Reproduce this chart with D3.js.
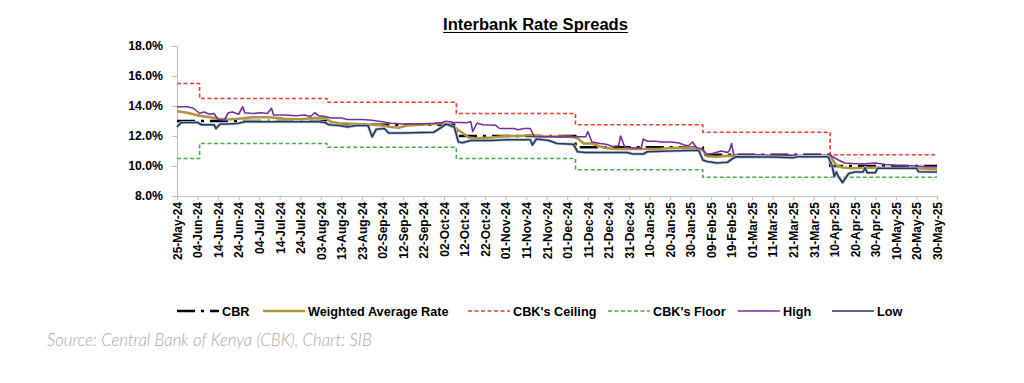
<!DOCTYPE html>
<html><head><meta charset="utf-8">
<script src="https://cdn.jsdelivr.net/npm/d3@7"></script>
<style>body{margin:0;background:#fff} svg{display:block}</style>
</head><body>
<svg id="c" width="1024" height="383"></svg>
<script>
// ---------- DATA ----------
const chartTitle = "Interbank Rate Spreads";
const sourceText = "Source: Central Bank of Kenya (CBK), Chart: SIB";
const tickLabels = ["25-May-24","04-Jun-24","14-Jun-24","24-Jun-24","04-Jul-24","14-Jul-24","24-Jul-24","03-Aug-24","13-Aug-24","23-Aug-24","02-Sep-24","12-Sep-24","22-Sep-24","02-Oct-24","12-Oct-24","22-Oct-24","01-Nov-24","11-Nov-24","21-Nov-24","01-Dec-24","11-Dec-24","21-Dec-24","31-Dec-24","10-Jan-25","20-Jan-25","30-Jan-25","09-Feb-25","19-Feb-25","01-Mar-25","11-Mar-25","21-Mar-25","31-Mar-25","10-Apr-25","20-Apr-25","30-Apr-25","10-May-25","20-May-25","30-May-25"];
const yTicks = [8,10,12,14,16,18];

const stepDates = ["2024-05-25","2024-06-05","2024-08-06","2024-10-08","2024-12-05","2025-02-05","2025-04-08","2025-05-30"];
const cbrValues     = [13.0, 13.0, 12.75, 12.0, 11.25, 10.75, 10.0, 10.0];
const ceilingValues = [15.5, 14.5, 14.25, 13.5, 12.75, 12.25, 10.75, 10.75];
const floorValues   = [10.5, 11.5, 11.25, 10.5, 9.75, 9.25, 9.25, 9.25];

const high = [["2024-05-25",13.95],["2024-05-30",13.95],["2024-06-02",13.85],["2024-06-05",13.5],["2024-06-07",13.6],["2024-06-10",13.45],["2024-06-12",13.5],["2024-06-14",13.1],["2024-06-17",13.05],["2024-06-19",13.55],["2024-06-21",13.6],["2024-06-24",13.45],["2024-06-26",13.95],["2024-06-27",13.55],["2024-07-01",13.5],["2024-07-05",13.55],["2024-07-08",13.5],["2024-07-10",13.85],["2024-07-11",13.4],["2024-07-16",13.4],["2024-07-22",13.35],["2024-07-26",13.4],["2024-07-29",13.3],["2024-07-31",13.55],["2024-08-02",13.35],["2024-08-05",13.3],["2024-08-08",13.2],["2024-08-13",13.2],["2024-08-16",13.1],["2024-08-23",13.1],["2024-08-28",13.05],["2024-09-02",12.95],["2024-09-06",12.85],["2024-09-12",12.8],["2024-09-20",12.8],["2024-09-27",12.85],["2024-10-01",12.9],["2024-10-03",12.98],["2024-10-07",12.9],["2024-10-10",12.9],["2024-10-13",12.88],["2024-10-15",12.95],["2024-10-16",12.3],["2024-10-18",12.85],["2024-10-21",12.75],["2024-10-27",12.72],["2024-10-29",12.5],["2024-11-05",12.5],["2024-11-07",12.42],["2024-11-10",12.5],["2024-11-13",12.5],["2024-11-15",11.95],["2024-11-25",11.95],["2024-11-29",11.93],["2024-12-05",11.95],["2024-12-10",11.95],["2024-12-11",12.3],["2024-12-13",11.6],["2024-12-17",11.5],["2024-12-20",11.45],["2024-12-23",11.3],["2024-12-26",11.35],["2024-12-27",12.0],["2024-12-29",11.25],["2025-01-02",11.2],["2025-01-06",11.2],["2025-01-07",11.8],["2025-01-09",11.65],["2025-01-13",11.65],["2025-01-16",11.6],["2025-01-20",11.6],["2025-01-24",11.55],["2025-01-27",11.4],["2025-01-29",11.35],["2025-01-31",11.6],["2025-02-02",11.2],["2025-02-05",11.1],["2025-02-07",10.75],["2025-02-10",10.85],["2025-02-14",11.0],["2025-02-17",10.9],["2025-02-18",11.05],["2025-02-19",11.5],["2025-02-20",10.75],["2025-02-24",10.72],["2025-03-04",10.75],["2025-03-10",10.7],["2025-03-17",10.73],["2025-03-24",10.7],["2025-04-01",10.72],["2025-04-08",10.72],["2025-04-10",10.55],["2025-04-12",10.4],["2025-04-15",10.2],["2025-04-20",10.15],["2025-04-25",10.15],["2025-04-30",10.2],["2025-05-05",10.1],["2025-05-10",10.05],["2025-05-20",10.0],["2025-05-25",9.95],["2025-05-30",9.95]];

const weighted = [["2024-05-25",13.65],["2024-05-30",13.55],["2024-06-05",13.35],["2024-06-10",13.25],["2024-06-14",13.15],["2024-06-19",13.1],["2024-06-24",13.15],["2024-07-01",13.25],["2024-07-08",13.25],["2024-07-12",13.22],["2024-07-16",13.15],["2024-07-24",13.12],["2024-07-31",13.2],["2024-08-05",13.2],["2024-08-08",12.95],["2024-08-12",12.85],["2024-08-20",12.8],["2024-08-28",12.75],["2024-09-02",12.7],["2024-09-06",12.6],["2024-09-10",12.55],["2024-09-14",12.7],["2024-09-20",12.75],["2024-09-27",12.8],["2024-10-01",12.85],["2024-10-04",12.75],["2024-10-08",12.5],["2024-10-10",12.3],["2024-10-14",11.9],["2024-10-18",11.85],["2024-10-25",11.9],["2024-11-01",12.0],["2024-11-08",12.0],["2024-11-13",12.07],["2024-11-20",11.97],["2024-11-28",11.97],["2024-12-03",11.95],["2024-12-06",11.85],["2024-12-09",11.5],["2024-12-13",11.5],["2024-12-17",11.3],["2024-12-20",11.2],["2024-12-24",11.13],["2025-01-05",11.13],["2025-01-15",11.15],["2025-01-22",11.2],["2025-01-30",11.25],["2025-02-03",11.18],["2025-02-05",11.05],["2025-02-07",10.65],["2025-02-12",10.62],["2025-02-17",10.68],["2025-02-20",10.67],["2025-03-10",10.68],["2025-03-25",10.66],["2025-04-08",10.67],["2025-04-09",10.45],["2025-04-11",10.05],["2025-04-14",9.9],["2025-04-18",9.85],["2025-04-25",9.88],["2025-05-01",9.9],["2025-05-10",9.85],["2025-05-20",9.85],["2025-05-30",9.78]];

const low = [["2024-05-25",12.6],["2024-05-27",12.9],["2024-06-04",12.9],["2024-06-06",12.75],["2024-06-12",12.75],["2024-06-13",12.5],["2024-06-15",12.8],["2024-06-19",12.8],["2024-06-24",12.85],["2024-06-27",12.95],["2024-07-15",12.95],["2024-08-02",12.95],["2024-08-05",12.9],["2024-08-07",12.75],["2024-08-12",12.7],["2024-08-16",12.6],["2024-08-20",12.7],["2024-08-26",12.7],["2024-08-28",11.95],["2024-08-30",12.45],["2024-09-03",12.5],["2024-09-05",12.2],["2024-09-12",12.2],["2024-09-27",12.25],["2024-10-01",12.6],["2024-10-03",12.8],["2024-10-07",12.6],["2024-10-09",11.6],["2024-10-11",11.55],["2024-10-15",11.7],["2024-10-25",11.7],["2024-11-01",11.75],["2024-11-13",11.75],["2024-11-14",11.4],["2024-11-16",11.8],["2024-11-22",11.7],["2024-11-26",11.5],["2024-12-04",11.45],["2024-12-06",10.95],["2024-12-10",10.9],["2024-12-30",10.9],["2025-01-02",10.8],["2025-01-07",10.8],["2025-01-09",10.95],["2025-01-20",11.0],["2025-02-03",11.05],["2025-02-05",10.4],["2025-02-07",10.3],["2025-02-12",10.2],["2025-02-17",10.25],["2025-02-19",10.45],["2025-02-21",10.62],["2025-03-10",10.6],["2025-03-21",10.55],["2025-03-23",10.62],["2025-04-07",10.62],["2025-04-09",10.0],["2025-04-10",9.3],["2025-04-11",9.6],["2025-04-12",9.3],["2025-04-14",8.9],["2025-04-15",9.1],["2025-04-17",9.5],["2025-04-20",9.6],["2025-04-24",9.6],["2025-04-25",9.9],["2025-04-26",9.55],["2025-04-30",9.55],["2025-05-01",9.85],["2025-05-20",9.85],["2025-05-21",9.62],["2025-05-30",9.6]];

const legendLabels = ["CBR","Weighted Average Rate","CBK's Ceiling","CBK's Floor","High","Low"];

// ---------- LAYOUT / STYLE ----------
const W = 1024, H = 383;
const plot = {left:177, right:937, top:46, bottom:196};
const FONT = "'Liberation Sans', Arial, sans-serif";
const styles = {
  "CBR": {color:"#000000", width:2.6, dash:"18,6,3,6"},
  "Weighted Average Rate": {color:"#b5933a", width:2.6, dash:null},
  "CBK's Ceiling": {color:"#f23a30", width:1.6, dash:"4,2.5"},
  "CBK's Floor": {color:"#45b04a", width:1.6, dash:"4,2.5"},
  "High": {color:"#7030a0", width:1.6, dash:null},
  "Low": {color:"#1f3a5c", width:1.6, dash:null, halo:"#b9c5d4"}
};
const legendX = [177, 263, 468, 608, 738, 832];
const legendLineLen = 42;

const parse = d3.utcParse("%Y-%m-%d");
const parseTick = d3.utcParse("%d-%b-%y");
const tickDates = tickLabels.map(parseTick);

const x = d3.scaleUtc().domain([tickDates[0], tickDates[tickDates.length-1]]).range([plot.left, plot.right]);
const y = d3.scaleLinear().domain([8,18]).range([plot.bottom, plot.top]);

const svg = d3.select("#c");
svg.append("rect").attr("width",W).attr("height",H).attr("fill","#fff");

function fitWidth(sel, target){
  const w = sel.node().getComputedTextLength();
  const fs = parseFloat(sel.attr("font-size"));
  sel.attr("font-size", fs*target/w);
}

// title
const title = svg.append("text").attr("x",535.5).attr("y",30).attr("text-anchor","middle")
  .attr("font-family",FONT).attr("font-weight","bold").attr("font-size",16.5).attr("fill","#000")
  .text(chartTitle);
fitWidth(title, 185);
const tw = title.node().getComputedTextLength();
svg.append("line").attr("x1",535.5-tw/2).attr("x2",535.5+tw/2).attr("y1",32.5).attr("y2",32.5)
  .attr("stroke","#000").attr("stroke-width",1.2);

// axes
const yAxis = d3.axisLeft(y).tickValues(yTicks).tickSize(5).tickPadding(9).tickFormat(d => d.toFixed(1)+"%");
const gy = svg.append("g").attr("transform",`translate(${plot.left},0)`).call(yAxis);
gy.select(".domain").attr("stroke","#bfbfbf").attr("stroke-width",1.2);
gy.selectAll(".tick line").attr("stroke","#bfbfbf");
gy.selectAll("text").attr("font-family",FONT).attr("font-weight","bold").attr("font-size",12.3).attr("fill","#000");

const xAxis = d3.axisBottom(x).tickValues(tickDates).tickSize(4).tickFormat((d,i)=>tickLabels[i]);
const gx = svg.append("g").attr("transform",`translate(0,${plot.bottom})`).call(xAxis);
gx.select(".domain").attr("stroke","#bfbfbf").attr("stroke-width",1.2);
gx.selectAll(".tick line").attr("stroke","#bfbfbf");
gx.selectAll("text").attr("font-family",FONT).attr("font-weight","bold").attr("font-size",12).attr("fill","#000")
  .attr("text-anchor","end").attr("dy",null).attr("y",null)
  .attr("transform","translate(4.3,6) rotate(-90)");

// lines
const lineGen = d3.line().x(d=>x(d[0])).y(d=>y(d[1]));
const stepGen = d3.line().x(d=>x(d[0])).y(d=>y(d[1])).curve(d3.curveStepAfter);
function toPts(arr){ return arr.map(d=>[parse(d[0]), d[1]]); }
function toStep(vals){ return stepDates.map((d,i)=>[parse(d), vals[i]]); }

function drawPath(pathD, st){
  if (st.halo) svg.append("path").attr("d",pathD).attr("fill","none").attr("stroke",st.halo).attr("stroke-width",st.width+1.6).attr("stroke-linejoin","round");
  svg.append("path").attr("d",pathD).attr("fill","none").attr("stroke",st.color)
    .attr("stroke-width",st.width).attr("stroke-dasharray",st.dash).attr("stroke-linejoin","round");
}
drawPath(stepGen(toStep(cbrValues)), styles["CBR"]);
drawPath(lineGen(toPts(weighted)), styles["Weighted Average Rate"]);
drawPath(stepGen(toStep(ceilingValues)), styles["CBK's Ceiling"]);
drawPath(stepGen(toStep(floorValues)), styles["CBK's Floor"]);
drawPath(lineGen(toPts(high)), styles["High"]);
drawPath(lineGen(toPts(low)), styles["Low"]);

// legend
const lg = svg.append("g");
legendLabels.forEach((lab,i)=>{
  const st = styles[lab], x0 = legendX[i];
  lg.append("line").attr("x1",x0).attr("x2",x0+legendLineLen).attr("y1",311).attr("y2",311)
    .attr("stroke",st.color).attr("stroke-width",st.width).attr("stroke-dasharray",st.dash);
  lg.append("text").attr("x",x0+legendLineLen+3).attr("y",315.5).attr("font-family",FONT)
    .attr("font-weight","bold").attr("font-size",12.7).attr("fill","#000").text(lab);
});

// source
const src = svg.append("text").attr("x",47).attr("y",346).attr("font-family","Lato, 'Open Sans', sans-serif")
  .attr("font-style","italic").attr("font-weight",300).attr("font-size",15.5).attr("fill","#a8a8a8")
  .text(sourceText);
fitWidth(src, 325);
</script>
</body></html>
